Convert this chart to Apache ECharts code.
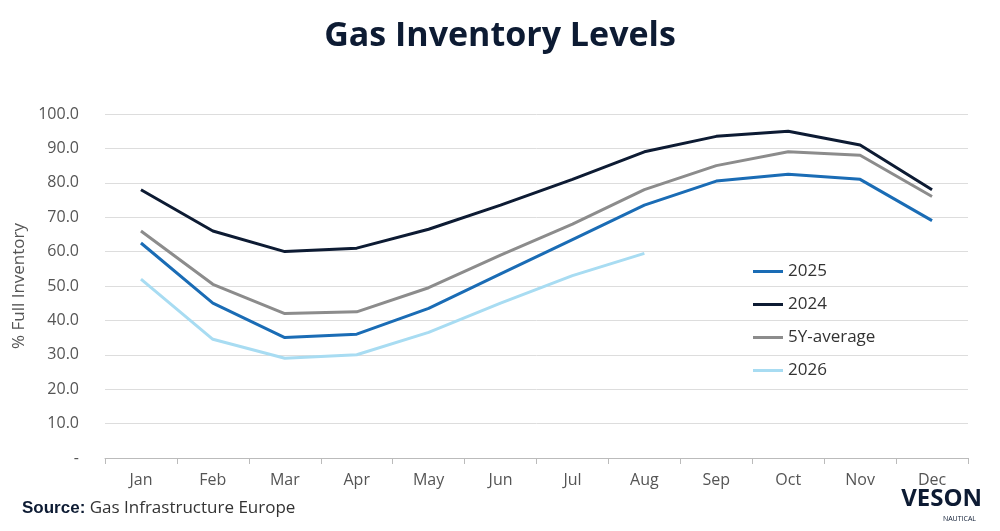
<!DOCTYPE html>
<html>
<head>
<meta charset="utf-8">
<script src="https://cdn.jsdelivr.net/npm/echarts@6/dist/echarts.min.js"></script>
<style>
  html, body { margin: 0; padding: 0; background: #fff; }
  #chart { width: 1000px; height: 531px; }
</style>
</head>
<body>
<div id="chart"></div>
<script>
const months = ['Jan', 'Feb', 'Mar', 'Apr', 'May', 'Jun', 'Jul', 'Aug', 'Sep', 'Oct', 'Nov', 'Dec'];
const yTickLabels = { 0: '-', 10: '10.0', 20: '20.0', 30: '30.0', 40: '40.0', 50: '50.0', 60: '60.0', 70: '70.0', 80: '80.0', 90: '90.0', 100: '100.0' };

const s2025 = [62.5, 45, 35, 36, 43.5, 53.5, 63.5, 73.5, 80.5, 82.5, 81, 69];
const s2024 = [78, 66, 60, 61, 66.5, 73.5, 81, 89, 93.5, 95, 91, 78];
const s5y = [66, 50.5, 42, 42.5, 49.5, 59, 68, 78, 85, 89, 88, 76];
const s2026 = [52, 34.5, 29, 30, 36.5, 45, 53, 59.5];

const chart = echarts.init(document.getElementById('chart'));

function line(name, data, color) {
  return {
    name, type: 'line', data, smooth: false, symbol: 'none',
    lineStyle: { color, width: 3 }, itemStyle: { color }
  };
}

chart.setOption({
  animation: false,
  textStyle: { fontFamily: 'Open Sans' },
  title: {
    text: 'Gas Inventory Levels', left: 'center', top: 14,
    textStyle: { fontSize: 34, fontWeight: 'bold', color: '#0d1b33', fontFamily: 'Open Sans' }
  },
  legend: {
    orient: 'vertical', left: 748, top: 258, itemGap: 16,
    itemWidth: 30, itemHeight: 3, icon: 'rect',
    textStyle: { fontSize: 17, color: '#333' },
    data: ['2025', '2024', '5Y-average', '2026']
  },
  grid: { left: 105, right: 32, top: 114, bottom: 73 },
  xAxis: {
    type: 'category', data: months, boundaryGap: true,
    axisLine: { lineStyle: { color: '#bbb' } },
    axisTick: { show: true, lineStyle: { color: '#bbb' }, length: 6 },
    axisLabel: { fontSize: 16, color: '#555', margin: 14 }
  },
  yAxis: {
    type: 'value', min: 0, max: 100, interval: 10,
    name: '% Full Inventory', nameLocation: 'middle', nameGap: 72,
    nameTextStyle: { fontSize: 17, color: '#555' },
    axisLine: { show: false }, axisTick: { show: false },
    axisLabel: { fontSize: 16, color: '#555', margin: 26, formatter: v => yTickLabels[v] },
    splitLine: { lineStyle: { color: '#ddd' } }
  },
  graphic: [
    { type: 'text', left: 22, top: 500, style: { text: '{b|Source:} Gas Infrastructure Europe', rich: { b: { fontWeight: 'bold', fontSize: 17, fill: '#0d1b33' } }, fontSize: 17, fill: '#333', fontFamily: 'Open Sans' } },
    { type: 'text', right: 18, top: 487, style: { text: 'VESON', fontSize: 24, fontWeight: 'bold', fill: '#0d1b33', fontFamily: 'Open Sans' } },
    { type: 'text', right: 24, top: 515, style: { text: 'NAUTICAL', fontSize: 7, fill: '#0d1b33', fontFamily: 'Open Sans' } }
  ],
  series: [
    line('2025', s2025, '#1a6cb5'),
    line('2024', s2024, '#0d1b33'),
    line('5Y-average', s5y, '#8c8c8c'),
    line('2026', s2026, '#a8dcf2')
  ]
});
</script>
</body>
</html>
